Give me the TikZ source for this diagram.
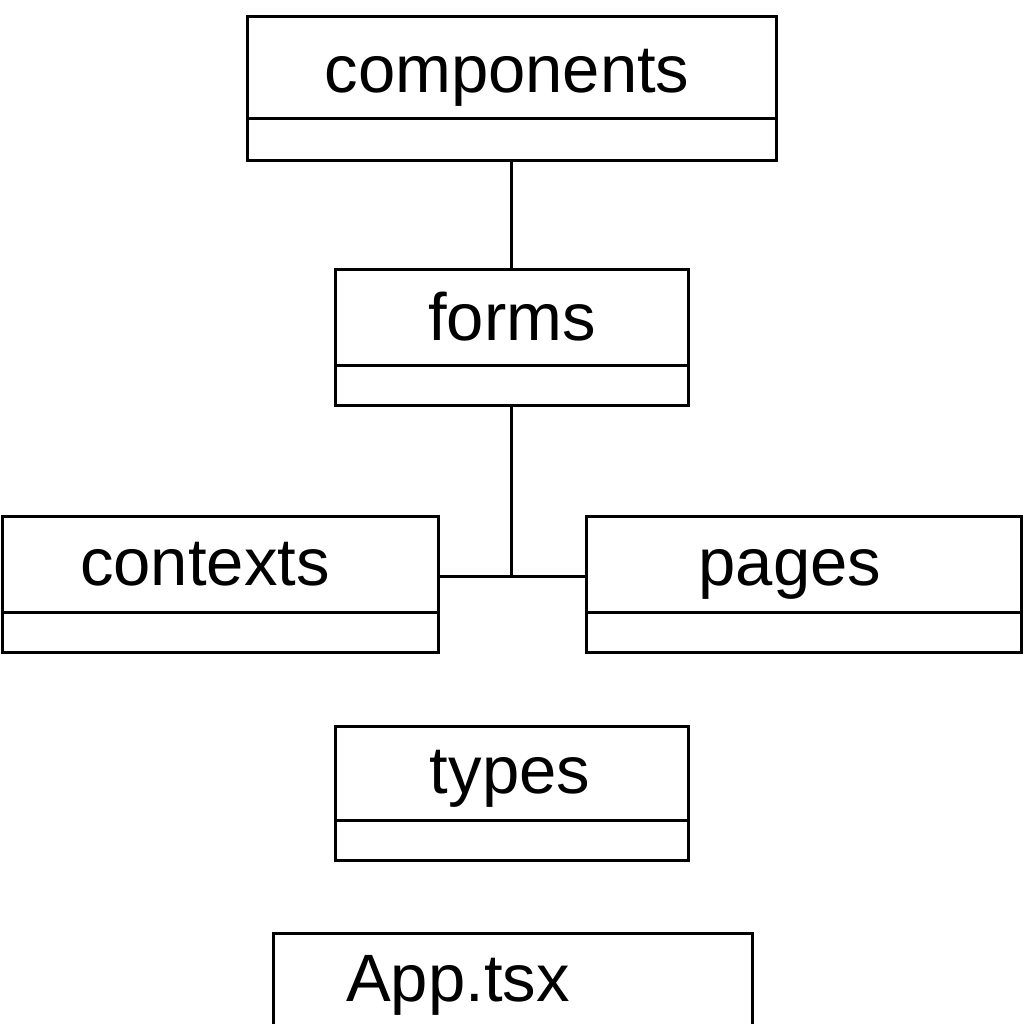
\documentclass[tikz,border=0pt]{standalone}
\usepackage{fontspec}
\setmainfont{Liberation Sans}

\tikzset{
  box/.style={draw, line width=3pt, inner sep=0pt},
  label/.style={anchor=base, inner sep=0.75pt, font=\fontsize{67}{67}\selectfont},
  link/.style={line width=3pt}
}

\begin{document}
\begin{tikzpicture}[x=1pt,y=1pt,yscale=-1,xscale=1]
		% Set diagram frame, 1024 x 1024
		\useasboundingbox (0,0) rectangle (1024,1024);

		% Draw the boxes
		\node[box, minimum width=529, minimum height=144] (components) at (511.5,89) {};
		\node[box, minimum width=353, minimum height=136] (forms) at (511.5,337) {};
		\node[box, minimum width=436, minimum height=136] (contexts) at (220,584) {};
		\node[box, minimum width=435, minimum height=136] (pages) at (803.5,584) {};
		\node[box, minimum width=353, minimum height=134] (types) at (511.5,793) {};

		% Draw the dividers of each box
		\draw[link] (components.west |- 0,119) -- (components.east |- 0,119);
		\draw[link] (forms.west |- 0,365) -- (forms.east |- 0,365);
		\draw[link] (contexts.west |- 0,612) -- (contexts.east |- 0,612);
		\draw[link] (pages.west |- 0,612) -- (pages.east |- 0,612);
		\draw[link] (types.west |- 0,820) -- (types.east |- 0,820);

		% The last box is cut by the bottom edge
		\coordinate (appsw) at (273,1026);
		\coordinate (appne) at (752,933);
		\draw[link] (appsw) |- (appne) -- (appne |- appsw);

		% Text for the labels
		\node[label] (componentstext) at (507,93) {components};
		\node[label] (formstext) at (512,340) {forms};
		\node[label] (contextstext) at (205,585) {contexts};
		\node[label] (pagestext) at (790,585) {pages};
		\node[label] (typestext) at (510,793) {types};
		\node[label] (apptext) at (458,1001) {App.tsx};

		% Draw the connectors
		\coordinate (join) at (511.5,576);
		\draw[link] (components.south) -- (forms.north);
		\draw[link] (forms.south) -- (join);
		\draw[link] (contexts.east |- join) -- (pages.west |- join);
	\end{tikzpicture}
\end{document}
